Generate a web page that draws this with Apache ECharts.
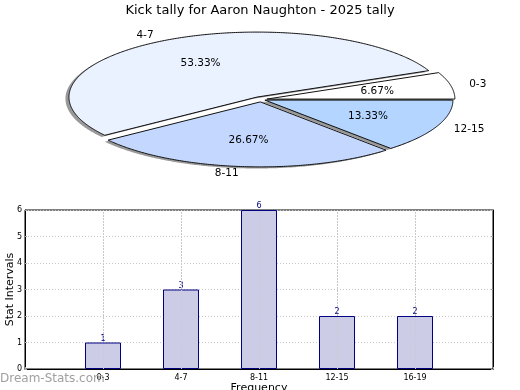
<!DOCTYPE html>
<html>
<head>
<meta charset="utf-8">
<script src="https://cdn.jsdelivr.net/npm/echarts@6/dist/echarts.min.js"></script>
<style>
html,body{margin:0;padding:0;background:#fff;}
#main{width:520px;height:390px;}
</style>
</head>
<body>
<div id="main"></div>
<script>
// ---- data ----
var titleText = 'Kick tally for Aaron Naughton - 2025 tally';
var pieCategories = ['0-3', '4-7', '8-11', '12-15'];
var pieValues = [1, 8, 4, 2];
var barCategories = ['0-3', '4-7', '8-11', '12-15', '16-19'];
var barValues = [1, 3, 6, 2, 2];
var yTicks = [0, 1, 2, 3, 4, 5, 6];

// ---- styles ----
var pieColors = ['#ffffff', '#ebf2ff', '#c4d8ff', '#b3d5ff'];
var pieExplode = [0.032, 0.043, 0.037, 0.023];
var PIE = { cx: 261, cy: 99.5, rx: 188, ry: 65 };
var FONT = 'DejaVu Sans';
var DOTTED = { color: '#c8c8c8', type: [1, 2], width: 1 };

var total = pieValues.reduce(function (a, b) { return a + b; }, 0);
var starts = [];
(function () { var acc = 0; for (var i = 0; i < pieValues.length; i++) { starts.push(acc); acc += pieValues[i]; } })();

function sliceGeom(i) {
  var a0 = starts[i] / total * 2 * Math.PI;
  var a1 = (starts[i] + pieValues[i]) / total * 2 * Math.PI;
  var am = (a0 + a1) / 2;
  var e = pieExplode[i];
  var cx = PIE.cx + e * PIE.rx * Math.cos(am);
  var cy = PIE.cy - e * PIE.ry * Math.sin(am);
  return { a0: a0, a1: a1, am: am, cx: cx, cy: cy };
}
function slicePoints(g, dx, dy) {
  var pts = [[g.cx + dx, g.cy + dy]];
  var n = Math.max(8, Math.ceil((g.a1 - g.a0) / 0.01));
  for (var k = 0; k <= n; k++) {
    var t = g.a0 + (g.a1 - g.a0) * k / n;
    pts.push([g.cx + dx + PIE.rx * Math.cos(t), g.cy + dy - PIE.ry * Math.sin(t)]);
  }
  return pts;
}

var chart = echarts.init(document.getElementById('main'));
var option = {
  animation: false,
  backgroundColor: '#fff',
  title: {
    text: titleText, left: 'center', top: -1,
    textStyle: { fontFamily: FONT, fontSize: 13, fontWeight: 'normal', color: '#000' }
  },
  grid: { left: 25, right: 27, top: 210, bottom: 21, outerBoundsMode: 'none', containLabel: false,
    show: true, borderColor: '#000', borderWidth: 1, backgroundColor: 'transparent' },
  xAxis: {
    type: 'category', boundaryGap: false,
    data: [''].concat(barCategories).concat(['']),
    name: 'Frequency', nameLocation: 'middle', nameGap: 14, nameMoveOverlap: false,
    nameTextStyle: { fontFamily: FONT, fontSize: 11, color: '#000' },
    axisLine: { lineStyle: { color: '#000', width: 1 } },
    axisTick: { show: true, inside: true, length: 2, lineStyle: { color: '#aaa' } },
    axisLabel: { fontFamily: FONT, fontSize: 8, color: '#000', margin: 5, interval: 0 },
    splitLine: { show: true, lineStyle: DOTTED }
  },
  yAxis: [
    {
      type: 'value', min: 0, max: 6, interval: 1,
      name: 'Stat Intervals', nameLocation: 'middle', nameGap: 9, nameMoveOverlap: false,
      nameTextStyle: { fontFamily: FONT, fontSize: 11, color: '#000' },
      axisLine: { show: true, lineStyle: { color: '#000', width: 1 } },
      axisTick: { show: true, inside: true, length: 2, lineStyle: { color: '#aaa' } },
      axisLabel: { fontFamily: FONT, fontSize: 8, color: '#000', margin: 3,
        formatter: function (v) { return yTicks.indexOf(v) >= 0 ? String(v) : ''; } },
      splitLine: { show: true, lineStyle: DOTTED }
    },
    {
      type: 'value', min: 0, max: 6, interval: 1, position: 'right',
      axisLine: { show: true, lineStyle: { color: '#000', width: 1 } },
      axisTick: { show: true, inside: true, length: 2, lineStyle: { color: '#aaa' } },
      axisLabel: { show: false },
      splitLine: { show: false }
    }
  ],
  series: [
    {
      type: 'bar', barWidth: 36,
      data: ['-'].concat(barValues).concat(['-']),
      itemStyle: { color: '#ccccE6', borderColor: '#000080', borderWidth: 1 },
      label: { show: true, position: 'top', distance: 0, fontFamily: FONT, fontSize: 8, color: '#000080' },
      markLine: {
        silent: true, symbol: 'none', animation: false,
        label: { show: false },
        lineStyle: DOTTED,
        data: barCategories.map(function (c) { return { xAxis: c }; })
      }
    },
    {
      type: 'custom', coordinateSystem: 'none', z: 1, silent: true,
      data: pieValues,
      renderItem: function (params, api) {
        var g = sliceGeom(params.dataIndex);
        return { type: 'polygon', shape: { points: slicePoints(g, -3.5, 1.6) },
          style: { fill: 'rgba(70,70,70,0.55)', stroke: null } };
      }
    },
    {
      type: 'custom', coordinateSystem: 'none', z: 5, silent: true,
      data: pieValues,
      renderItem: function (params, api) {
        var i = params.dataIndex;
        var g = sliceGeom(i);
        var v = api.value(0);
        var ca = Math.cos(g.am), sa = Math.sin(g.am);
        return {
          type: 'group',
          children: [
            { type: 'polygon', shape: { points: slicePoints(g, 0, 0) },
              style: { fill: pieColors[i], stroke: '#111', lineWidth: 1, lineJoin: 'round' } },
            { type: 'text', z2: 10,
              style: { text: (v / total * 100).toFixed(2) + '%',
                x: g.cx + 0.6 * PIE.rx * ca, y: g.cy - 0.6 * PIE.ry * sa,
                align: 'center', verticalAlign: 'middle',
                font: '10.5px "' + FONT + '"', fill: '#000' } },
            { type: 'text', z2: 10,
              style: { text: pieCategories[i],
                x: g.cx + 1.1 * PIE.rx * ca, y: g.cy - 1.1 * PIE.ry * sa,
                align: ca > 0 ? 'left' : 'right', verticalAlign: 'middle',
                font: '10.5px "' + FONT + '"', fill: '#000' } }
          ]
        };
      }
    }
  ],
  graphic: [
    { type: 'text', left: 0, top: 373, z: 100,
      style: { text: 'Dream-Stats.com', font: '12px "' + FONT + '"', fill: '#a0a0a0' } }
  ]
};
chart.setOption(option);
</script>
</body>
</html>
